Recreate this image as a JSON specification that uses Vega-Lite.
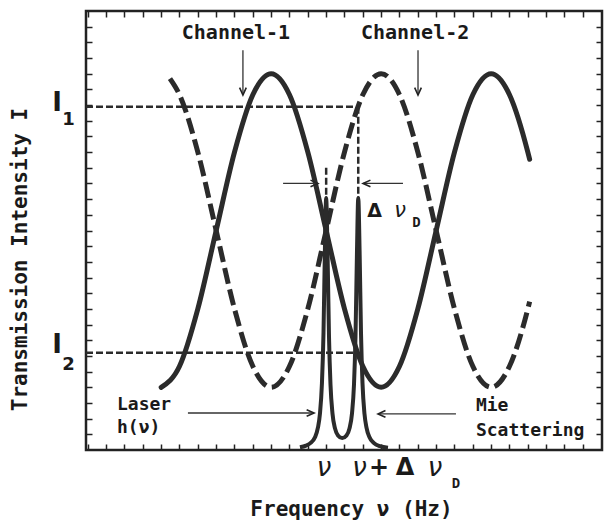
{
 "$schema": "https://vega.github.io/schema/vega-lite/v6.json",
 "width": 516, "height": 439,
 "autosize": {"type": "none"},
 "padding": {"left": 86, "top": 11, "right": 5, "bottom": 72},
 "background": "white",
 "config": {
  "view": {"stroke": "#222", "strokeWidth": 2.5},
  "axis": {"domain": false, "grid": false, "labels": false, "ticks": true, "tickColor": "#222", "tickWidth": 1.5, "tickOpacity": 1,
   "titleFont": "DejaVu Sans Mono", "titleFontSize": 21, "titleFontWeight": "bold", "titleColor": "#1a1a1a"}
 },
 "datasets": {
  "solid": [{"u":4,"y":4},{"u":5,"y":5.34},{"u":6,"y":9},{"u":7,"y":14},{"u":8,"y":19},{"u":9,"y":22.66},{"u":10,"y":24},{"u":11,"y":22.66},{"u":12,"y":19},{"u":13,"y":14},{"u":14,"y":9},{"u":15,"y":5.34},{"u":16,"y":4},{"u":17,"y":5.34},{"u":18,"y":9},{"u":19,"y":14},{"u":20,"y":19},{"u":21,"y":22.66},{"u":22,"y":24},{"u":23,"y":22.66},{"u":24,"y":19},{"u":24.1,"y":18.54}],
  "dashed": [{"u":4.48,"y":23.69},{"u":5,"y":22.66},{"u":6,"y":19},{"u":7,"y":14},{"u":8,"y":9},{"u":9,"y":5.34},{"u":10,"y":4},{"u":11,"y":5.34},{"u":12,"y":9},{"u":13,"y":14},{"u":14,"y":19},{"u":15,"y":22.66},{"u":16,"y":24},{"u":17,"y":22.66},{"u":18,"y":19},{"u":19,"y":14},{"u":20,"y":9},{"u":21,"y":5.34},{"u":22,"y":4},{"u":23,"y":5.34},{"u":24,"y":9},{"u":24.1,"y":9.46}],
  "lorentz": [{"u":11.57,"y":0.17},{"u":11.9,"y":0.28},{"u":12.17,"y":0.47},{"u":12.39,"y":0.81},{"u":12.55,"y":1.42},{"u":12.66,"y":2.3},{"u":12.77,"y":4.27},{"u":12.855,"y":7.47},{"u":12.936,"y":13.08},{"u":13.0,"y":16.08},{"u":13.073,"y":12.72},{"u":13.155,"y":7.21},{"u":13.236,"y":4.18},{"u":13.345,"y":2.33},{"u":13.482,"y":1.38},{"u":13.645,"y":0.93},{"u":13.877,"y":0.76},{"u":14.109,"y":0.93},{"u":14.273,"y":1.38},{"u":14.409,"y":2.33},{"u":14.518,"y":4.18},{"u":14.6,"y":7.21},{"u":14.682,"y":12.72},{"u":14.75,"y":16.08},{"u":14.824,"y":12.69},{"u":14.9,"y":7.47},{"u":14.982,"y":4.27},{"u":15.091,"y":2.3},{"u":15.2,"y":1.43},{"u":15.364,"y":0.81},{"u":15.609,"y":0.44},{"u":15.936,"y":0.24},{"u":16.373,"y":0.14}],
  "refs": [{"x1":-0.1,"x2":14.75,"y1":21.9,"y2":21.9},{"x1":-0.1,"x2":14.75,"y1":6.2,"y2":6.2},{"x1":14.75,"x2":14.75,"y1":21.9,"y2":16.08},{"x1":13.0,"x2":13.0,"y1":18,"y2":16.08}],
  "arrows": [{"x1":8.46,"y1":25.5,"x2":8.46,"y2":22.64,"dir":"down"},{"x1":18.01,"y1":25.5,"x2":18.01,"y2":22.64,"dir":"down"},{"x1":10.65,"y1":17,"x2":12.55,"y2":17,"dir":"right"},{"x1":17.19,"y1":17,"x2":15.01,"y2":17,"dir":"left"},{"x1":5.46,"y1":2.36,"x2":12.34,"y2":2.36,"dir":"right"},{"x1":20.08,"y1":2.3,"x2":15.83,"y2":2.3,"dir":"left"}],
  "txtCenter": [{"x":8.08,"y":26.6,"t":"Channel-1"},{"x":17.85,"y":26.6,"t":"Channel-2"}],
  "txtLeft": [{"x":1.59,"y":2.87,"t":"Laser"},{"x":1.59,"y":1.4,"t":"h(ν)"},{"x":21.17,"y":2.81,"t":"Mie"},{"x":21.17,"y":1.21,"t":"Scattering"}],
  "nuBottom": [{"x":12.88,"y":-1.15,"t":"ν"},{"x":14.82,"y":-1.15,"t":"ν"},{"x":18.94,"y":-1.15,"t":"ν"}],
  "symBottom": [{"x":15.88,"y":-1.15,"t":"+"},{"x":17.3,"y":-1.15,"t":"Δ"}],
  "subD": [{"x":20.08,"y":-2.17,"t":"D"},{"x":17.93,"y":14.48,"t":"D"}],
  "deltaIn": [{"x":15.64,"y":15.24,"t":"Δ"}],
  "nuIn": [{"x":17.03,"y":15.24,"t":"ν"}],
  "ylab": [{"x":-1.68,"y":22.13,"t":"I"},{"x":-1.68,"y":6.7,"t":"I"}],
  "ysub": [{"x":-1.05,"y":21.05,"t":"1"},{"x":-1.05,"y":5.39,"t":"2"}]
 },
 "resolve": {"axis": {"x": "independent", "y": "independent"}},
 "layer": [
  {"data": {"name": "solid"},
   "mark": {"type": "line", "interpolate": "monotone", "stroke": "#2b2b2b", "strokeWidth": 5, "strokeCap": "round"},
   "encoding": {
    "x": {"field": "u", "type": "quantitative", "scale": {"domain": [-0.1, 28.046], "nice": false, "zero": false},
     "axis": {"orient": "bottom", "ticks": true, "tickSize": 6, "offset": -6, "values": [0,1,2,3,4,5,6,7,8,9,10,11,12,13,14,15,16,17,18,19,20,21,22,23,24,25,26,27], "title": "Frequency ν (Hz)", "titleX": 265, "titleY": 65, "titleBaseline": "middle", "titleAlign": "center"}},
    "y": {"field": "y", "type": "quantitative", "scale": {"domain": [0, 28], "nice": false, "zero": false},
     "axis": {"orient": "left", "ticks": true, "tickSize": 6, "offset": -6, "values": [1,2,3,4,5,6,7,8,9,10,11,12,13,14,15,16,17,18,19,20,21,22,23,24,25,26,27], "title": "Transmission Intensity I", "titleX": -72, "titleY": 248, "titleAngle": -90, "titleBaseline": "middle", "titleAlign": "center"}}
   }},
  {"data": {"name": "dashed"},
   "mark": {"type": "line", "interpolate": "monotone", "stroke": "#2b2b2b", "strokeWidth": 5, "strokeDash": [16, 6]},
   "encoding": {
    "x": {"field": "u", "type": "quantitative", "scale": {"domain": [-0.1, 28.046], "nice": false, "zero": false},
     "axis": {"orient": "top", "ticks": true, "tickSize": 6, "offset": -6, "values": [0,1,2,3,4,5,6,7,8,9,10,11,12,13,14,15,16,17,18,19,20,21,22,23,24,25,26,27], "title": null}},
    "y": {"field": "y", "type": "quantitative", "scale": {"domain": [0, 28], "nice": false, "zero": false},
     "axis": {"orient": "right", "ticks": true, "tickSize": 6, "offset": -6, "values": [1,2,3,4,5,6,7,8,9,10,11,12,13,14,15,16,17,18,19,20,21,22,23,24,25,26,27], "title": null}}
   }},
  {"data": {"name": "refs"},
   "mark": {"type": "rule", "stroke": "#2b2b2b", "strokeWidth": 2.5, "strokeDash": [7, 3]},
   "encoding": {
    "x": {"field": "x1", "type": "quantitative", "scale": {"domain": [-0.1, 28.046], "nice": false, "zero": false}, "axis": null},
    "x2": {"field": "x2"},
    "y": {"field": "y1", "type": "quantitative", "scale": {"domain": [0, 28], "nice": false, "zero": false}, "axis": null},
    "y2": {"field": "y2"}
   }},
  {"data": {"name": "lorentz"},
   "mark": {"type": "line", "interpolate": "monotone", "stroke": "#2b2b2b", "strokeWidth": 4},
   "encoding": {
    "x": {"field": "u", "type": "quantitative", "scale": {"domain": [-0.1, 28.046], "nice": false, "zero": false}, "axis": null},
    "y": {"field": "y", "type": "quantitative", "scale": {"domain": [0, 28], "nice": false, "zero": false}, "axis": null}
   }},
  {"data": {"name": "arrows"},
   "mark": {"type": "rule", "stroke": "#333", "strokeWidth": 1.3},
   "encoding": {
    "x": {"field": "x1", "type": "quantitative", "scale": {"domain": [-0.1, 28.046], "nice": false, "zero": false}, "axis": null},
    "x2": {"field": "x2"},
    "y": {"field": "y1", "type": "quantitative", "scale": {"domain": [0, 28], "nice": false, "zero": false}, "axis": null},
    "y2": {"field": "y2"}
   }},
  {"data": {"name": "arrows"},
   "mark": {"type": "point", "filled": false, "stroke": "#222", "strokeWidth": 1.6, "size": 220, "opacity": 1},
   "encoding": {
    "x": {"field": "x2", "type": "quantitative", "scale": {"domain": [-0.1, 28.046], "nice": false, "zero": false}, "axis": null},
    "y": {"field": "y2", "type": "quantitative", "scale": {"domain": [0, 28], "nice": false, "zero": false}, "axis": null},
    "shape": {"field": "dir", "type": "nominal", "legend": null,
     "scale": {"domain": ["down", "left", "right"], "range": ["M -0.45 -1 L 0 0 L 0.45 -1", "M 1 -0.45 L 0 0 L 1 0.45", "M -1 -0.45 L 0 0 L -1 0.45"]}}
   }},
  {"data": {"name": "txtCenter"},
   "mark": {"type": "text", "font": "DejaVu Sans Mono", "fontSize": 20, "fontWeight": "bold", "color": "#1a1a1a", "align": "center", "baseline": "middle"},
   "encoding": {
    "x": {"field": "x", "type": "quantitative", "scale": {"domain": [-0.1, 28.046], "nice": false, "zero": false}, "axis": null},
    "y": {"field": "y", "type": "quantitative", "scale": {"domain": [0, 28], "nice": false, "zero": false}, "axis": null},
    "text": {"field": "t"}
   }},
  {"data": {"name": "txtLeft"},
   "mark": {"type": "text", "font": "DejaVu Sans Mono", "fontSize": 18, "fontWeight": "bold", "color": "#1a1a1a", "align": "left", "baseline": "middle"},
   "encoding": {
    "x": {"field": "x", "type": "quantitative", "scale": {"domain": [-0.1, 28.046], "nice": false, "zero": false}, "axis": null},
    "y": {"field": "y", "type": "quantitative", "scale": {"domain": [0, 28], "nice": false, "zero": false}, "axis": null},
    "text": {"field": "t"}
   }},
  {"data": {"name": "nuBottom"},
   "mark": {"type": "text", "font": "DejaVu Sans", "fontSize": 26, "fontStyle": "italic", "color": "#1a1a1a", "align": "center", "baseline": "middle"},
   "encoding": {
    "x": {"field": "x", "type": "quantitative", "scale": {"domain": [-0.1, 28.046], "nice": false, "zero": false}, "axis": null},
    "y": {"field": "y", "type": "quantitative", "scale": {"domain": [0, 28], "nice": false, "zero": false}, "axis": null},
    "text": {"field": "t"}
   }},
  {"data": {"name": "symBottom"},
   "mark": {"type": "text", "font": "DejaVu Sans", "fontSize": 24, "fontWeight": "bold", "color": "#1a1a1a", "align": "center", "baseline": "middle"},
   "encoding": {
    "x": {"field": "x", "type": "quantitative", "scale": {"domain": [-0.1, 28.046], "nice": false, "zero": false}, "axis": null},
    "y": {"field": "y", "type": "quantitative", "scale": {"domain": [0, 28], "nice": false, "zero": false}, "axis": null},
    "text": {"field": "t"}
   }},
  {"data": {"name": "subD"},
   "mark": {"type": "text", "font": "DejaVu Sans Mono", "fontSize": 14, "fontWeight": "bold", "color": "#1a1a1a", "align": "center", "baseline": "middle"},
   "encoding": {
    "x": {"field": "x", "type": "quantitative", "scale": {"domain": [-0.1, 28.046], "nice": false, "zero": false}, "axis": null},
    "y": {"field": "y", "type": "quantitative", "scale": {"domain": [0, 28], "nice": false, "zero": false}, "axis": null},
    "text": {"field": "t"}
   }},
  {"data": {"name": "deltaIn"},
   "mark": {"type": "text", "font": "DejaVu Sans", "fontSize": 19, "fontWeight": "bold", "color": "#1a1a1a", "align": "center", "baseline": "middle"},
   "encoding": {
    "x": {"field": "x", "type": "quantitative", "scale": {"domain": [-0.1, 28.046], "nice": false, "zero": false}, "axis": null},
    "y": {"field": "y", "type": "quantitative", "scale": {"domain": [0, 28], "nice": false, "zero": false}, "axis": null},
    "text": {"field": "t"}
   }},
  {"data": {"name": "nuIn"},
   "mark": {"type": "text", "font": "DejaVu Sans", "fontSize": 21, "fontStyle": "italic", "color": "#1a1a1a", "align": "center", "baseline": "middle"},
   "encoding": {
    "x": {"field": "x", "type": "quantitative", "scale": {"domain": [-0.1, 28.046], "nice": false, "zero": false}, "axis": null},
    "y": {"field": "y", "type": "quantitative", "scale": {"domain": [0, 28], "nice": false, "zero": false}, "axis": null},
    "text": {"field": "t"}
   }},
  {"data": {"name": "ylab"},
   "mark": {"type": "text", "font": "DejaVu Sans", "fontSize": 26, "fontWeight": "bold", "color": "#1a1a1a", "align": "center", "baseline": "middle"},
   "encoding": {
    "x": {"field": "x", "type": "quantitative", "scale": {"domain": [-0.1, 28.046], "nice": false, "zero": false}, "axis": null},
    "y": {"field": "y", "type": "quantitative", "scale": {"domain": [0, 28], "nice": false, "zero": false}, "axis": null},
    "text": {"field": "t"}
   }},
  {"data": {"name": "ysub"},
   "mark": {"type": "text", "font": "DejaVu Sans", "fontSize": 18, "fontWeight": "bold", "color": "#1a1a1a", "align": "center", "baseline": "middle"},
   "encoding": {
    "x": {"field": "x", "type": "quantitative", "scale": {"domain": [-0.1, 28.046], "nice": false, "zero": false}, "axis": null},
    "y": {"field": "y", "type": "quantitative", "scale": {"domain": [0, 28], "nice": false, "zero": false}, "axis": null},
    "text": {"field": "t"}
   }}
 ]
}
